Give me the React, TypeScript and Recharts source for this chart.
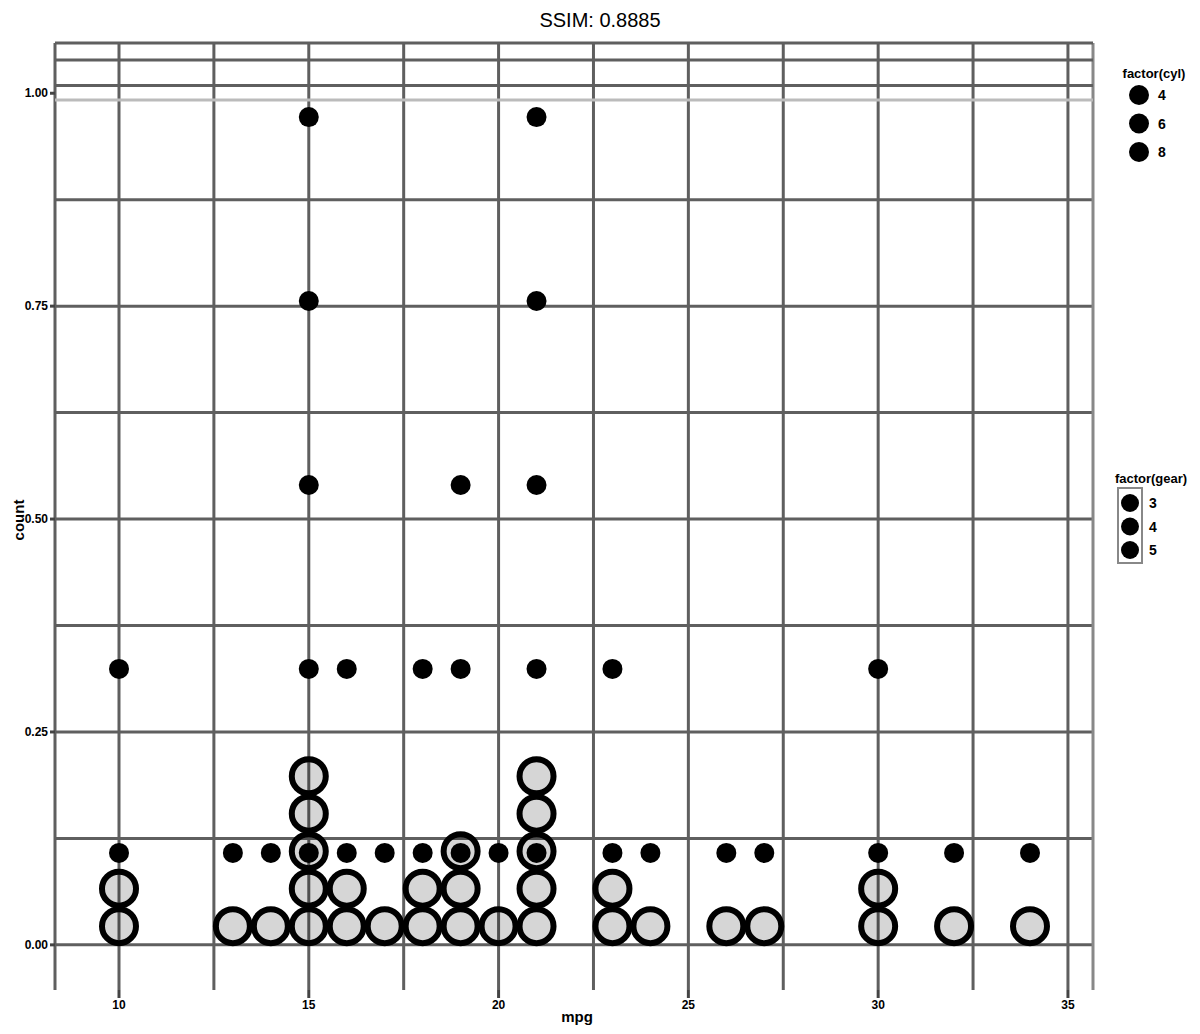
import React from "react";
import { ScatterChart, Scatter, XAxis, YAxis, ReferenceLine } from "recharts";

const mpgBins = [10, 13, 14, 15, 16, 17, 18, 19, 20, 21, 23, 24, 26, 27, 30, 32, 34];
const binCounts = [2, 1, 1, 5, 2, 1, 2, 3, 1, 5, 2, 1, 1, 1, 2, 1, 1];
const xTicks = [10, 15, 20, 25, 30, 35];
const yTicks = [0, 0.25, 0.5, 0.75, 1];
const xGrid = [10, 12.5, 15, 17.5, 20, 22.5, 25, 27.5, 30, 32.5, 35];
const yGrid = [0, 0.125, 0.25, 0.375, 0.5, 0.625, 0.75, 0.875];
const legend1Title = "factor(cyl)";
const legend1Labels = ["4", "6", "8"];
const legend2Title = "factor(gear)";
const legend2Labels = ["3", "4", "5"];
const titleText = "SSIM: 0.8885";
const xLabel = "mpg";
const yLabel = "count";

// dotplot stacking (binwidth 1)
const bigStep = 0.044;
const smallStep = 0.216;
const bigDots: { x: number; y: number }[] = [];
const smallDots: { x: number; y: number }[] = [];
mpgBins.forEach((b, i) => {
  for (let k = 0; k < binCounts[i]; k++) {
    bigDots.push({ x: b, y: (k + 0.5) * bigStep });
    smallDots.push({ x: b, y: (k + 0.5) * smallStep });
  }
});

const W = 1184;
const H = 1018;
const xDomain: [number, number] = [8.314, 35.66];
const yDomain: [number, number] = [-0.053, 1.059];
const gridColor = "#5f5f5f";
const font = "'Liberation Sans', Arial, sans-serif";

const BigCircle = (p: any) => (
  <circle cx={p.cx} cy={p.cy} r={17} fill="rgba(0,0,0,0.16)" stroke="#000" strokeWidth={6} />
);
const SmallDot = (p: any) => <circle cx={p.cx} cy={p.cy} r={10} fill="#000" />;

const XTick = (p: any) => (
  <text x={p.x} y={p.y} dy="0.71em" textAnchor="middle" fontFamily={font} fontWeight="bold" fontSize={12} fill="#000">
    {p.payload.value}
  </text>
);
const YTick = (p: any) => (
  <text x={p.x} y={p.y} dy="0.35em" textAnchor="end" fontFamily={font} fontWeight="bold" fontSize={12} fill="#000">
    {Number(p.payload.value).toFixed(2)}
  </text>
);

export default function App() {
  return (
    <div style={{ position: "relative", width: W, height: H, background: "#fff" }}>
      <ScatterChart width={W} height={H} margin={{ top: 35, right: 99, left: 7, bottom: 6 }}>
        <XAxis
          type="number"
          dataKey="x"
          domain={xDomain}
          allowDataOverflow
          ticks={xTicks}
          height={30}
          axisLine={false}
          tickSize={8}
          tickLine={{ stroke: "#444", strokeWidth: 3 }}
          tick={<XTick />}
        />
        <YAxis
          type="number"
          dataKey="y"
          domain={yDomain}
          allowDataOverflow
          ticks={yTicks}
          width={40}
          axisLine={false}
          tickSize={5}
          tickLine={{ stroke: "#444", strokeWidth: 3 }}
          tick={<YTick />}
        />
        {xGrid.map((v) => (
          <ReferenceLine key={"vx" + v} x={v} stroke={gridColor} strokeWidth={3} />
        ))}
        {yGrid.map((v) => (
          <ReferenceLine key={"hy" + v} y={v} stroke={gridColor} strokeWidth={3} />
        ))}
        <ReferenceLine x={xDomain[0]} stroke={gridColor} strokeWidth={3} />
        <ReferenceLine x={xDomain[1]} stroke="#888" strokeWidth={3} />
        <ReferenceLine y={yDomain[1]} stroke={gridColor} strokeWidth={3} />
        <ReferenceLine y={1.039} stroke={gridColor} strokeWidth={3} />
        <ReferenceLine y={1.009} stroke={gridColor} strokeWidth={3} />
        <ReferenceLine y={0.992} stroke="#bbb" strokeWidth={3} />
        <Scatter data={bigDots} isAnimationActive={false} shape={<BigCircle />} />
        <Scatter data={smallDots} isAnimationActive={false} shape={<SmallDot />} />
      </ScatterChart>
      <div
        style={{
          position: "absolute",
          top: 1,
          left: -8,
          width: 1200,
          textAlign: "center",
          fontFamily: font,
          fontSize: 20,
          color: "#000",
        }}
      >
        {titleText}
      </div>
      <svg
        width={W}
        height={H}
        style={{ position: "absolute", left: 0, top: 0, pointerEvents: "none", overflow: "visible" }}
      >
        <text x={569} y={1008} textAnchor="middle" dominantBaseline="central" fontFamily={font} fontWeight="bold" fontSize={15} fill="#000">
          {xLabel}
        </text>
        <text
          x={10}
          y={512}
          textAnchor="middle"
          dominantBaseline="central"
          transform="rotate(-90 10 512)"
          fontFamily={font}
          fontWeight="bold"
          fontSize={15}
          fill="#000"
        >
          {yLabel}
        </text>
        <text x={1146} y={65} textAnchor="middle" dominantBaseline="central" fontFamily={font} fontWeight="bold" fontSize={13} fill="#000">
          {legend1Title}
        </text>
        {legend1Labels.map((l, i) => (
          <g key={"l1" + i}>
            <circle cx={1131} cy={87 + i * 28.5} r={10} fill="#000" />
            <text x={1154} y={87 + i * 28.5} textAnchor="middle" dominantBaseline="central" fontFamily={font} fontWeight="bold" fontSize={14} fill="#000">
              {l}
            </text>
          </g>
        ))}
        <text x={1143} y={470} textAnchor="middle" dominantBaseline="central" fontFamily={font} fontWeight="bold" fontSize={13} fill="#000">
          {legend2Title}
        </text>
        <rect x={1110} y={480} width={24} height={75} fill="none" stroke="#888" strokeWidth={2} />
        {legend2Labels.map((l, i) => (
          <g key={"l2" + i}>
            <circle cx={1122} cy={495 + i * 23.5} r={9} fill="#000" />
            <text x={1145} y={495 + i * 23.5} textAnchor="middle" dominantBaseline="central" fontFamily={font} fontWeight="bold" fontSize={14} fill="#000">
              {l}
            </text>
          </g>
        ))}
      </svg>
    </div>
  );
}
